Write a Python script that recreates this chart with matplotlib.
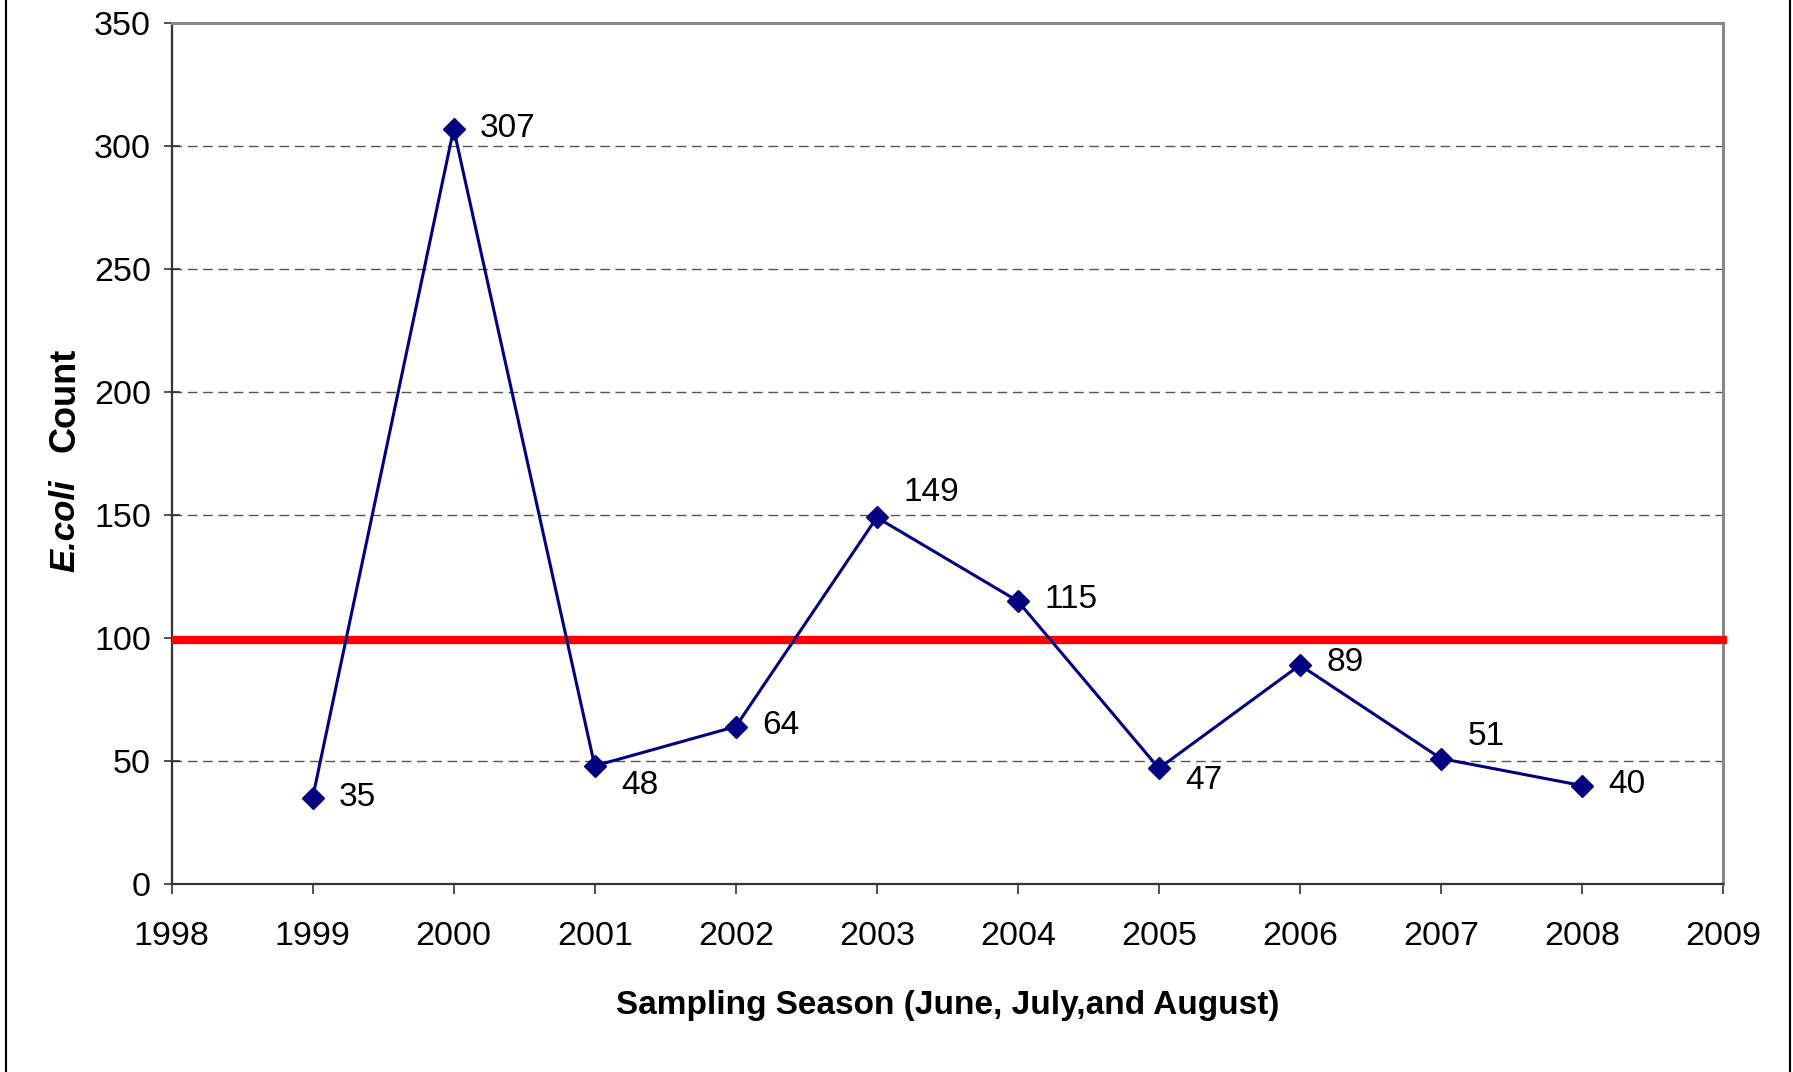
import matplotlib
matplotlib.use("Agg")
import matplotlib.pyplot as plt
from matplotlib.patches import Rectangle

# data
years = [1999, 2000, 2001, 2002, 2003, 2004, 2005, 2006, 2007, 2008]
ecoli_counts = [35, 307, 48, 64, 149, 115, 47, 89, 51, 40]
standard_level = 99
x_ticks = list(range(1998, 2010))
y_ticks = [0, 50, 100, 150, 200, 250, 300, 350]

# label offsets (points) for each value label
label_offsets = [(19, 0), (19, 0), (19, -14), (19, 1), (19, 18),
                 (19, 1), (19, -9), (19, 2), (19, 16), (19, 1)]

plt.rcParams["font.family"] = ["Liberation Sans", "DejaVu Sans"]

fig = plt.figure(figsize=(17.93, 10.72), dpi=100)
ax = fig.add_axes([0.0957, 0.1754, 0.8653, 0.8031])

ax.grid(axis="y", color="#555555", linestyle=(0, (7, 4)), linewidth=1.0)
ax.set_axisbelow(True)

ax.plot([1998, 2009.03], [standard_level, standard_level], color="#ff0000",
        linewidth=6, solid_capstyle="butt", zorder=3, clip_on=False)
ax.plot(years, ecoli_counts, color="#000080", linewidth=2.2, marker="D",
        markersize=11.5, zorder=4)

for x, y, (dx, dy) in zip(years, ecoli_counts, label_offsets):
    ax.annotate(str(y), (x, y), xytext=(dx, dy), textcoords="offset points",
                ha="left", va="center", fontsize=24)

ax.set_xlim(1998, 2009)
ax.set_ylim(0, 350)
ax.set_xticks(x_ticks)
ax.set_yticks(y_ticks)
ax.tick_params(axis="both", labelsize=24.5, length=7, width=1.2, color="#333333")
ax.tick_params(axis="x", direction="out", pad=20)
ax.tick_params(axis="y", direction="inout", length=12, pad=9)

for side in ("left", "bottom"):
    ax.spines[side].set_color("#333333")
    ax.spines[side].set_linewidth(1.6)
for side in ("top", "right"):
    ax.spines[side].set_color("#888888")
    ax.spines[side].set_linewidth(2.2)

ax.set_xlabel("Sampling Season (June, July,and August)", fontsize=24,
              fontweight="bold", labelpad=27)

# y label: italic "E.coli" + bold "Count"
fig.text(0.036, 0.466, "E.coli", rotation=90, ha="center", va="bottom",
         fontsize=25, fontweight="bold", fontstyle="italic")
fig.text(0.036, 0.676, "Count", rotation=90, ha="center", va="top",
         fontsize=26, fontweight="bold")

# outer frame lines
fig.patches.append(Rectangle((6 / 1793, -0.01), 1784 / 1793, 1.02,
                             transform=fig.transFigure, fill=False,
                             edgecolor="black", linewidth=1.5))

fig.savefig("out.png", dpi=100)
